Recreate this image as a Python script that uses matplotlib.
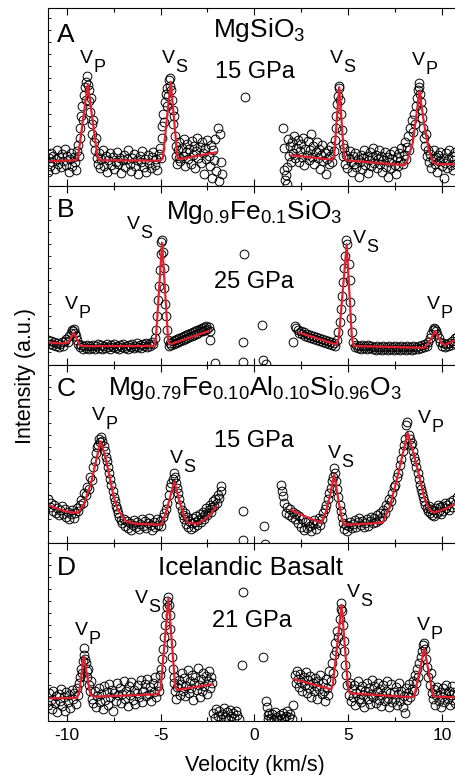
import matplotlib.pyplot as plt
from matplotlib.ticker import MultipleLocator

plt.rcParams['font.family'] = ['Liberation Sans', 'DejaVu Sans']
plt.rcParams['mathtext.fontset'] = 'custom'
plt.rcParams['mathtext.rm'] = 'Liberation Sans'
plt.rcParams['mathtext.default'] = 'regular'
plt.rcParams['axes.unicode_minus'] = False

nan = float('nan')

# ---- panel A : MgSiO3, 15 GPa ----
a_x = [
    -11.0, -10.95, -10.9, -10.85, -10.8, -10.72, -10.65, -10.6, -10.52, -10.45,
    -10.4, -10.33, -10.25, -10.2, -10.12, -10.05, -9.98, -9.9, -9.83, -9.75,
    -9.7, -9.62, -9.55, -9.5, -9.45, -9.4, -9.35, -9.3, -9.27, -9.22,
    -9.18, -9.13, -9.1, -9.05, -9.0, -8.96, -8.92, -8.88, -8.84, -8.8,
    -8.76, -8.72, -8.68, -8.64, -8.6, -8.55, -8.5, -8.45, -8.4, -8.35,
    -8.3, -8.22, -8.15, -8.08, -8.0, -7.92, -7.85, -7.78, -7.7, -7.62,
    -7.55, -7.48, -7.4, -7.32, -7.25, -7.18, -7.1, -7.02, -6.95, -6.88,
    -6.8, -6.72, -6.65, -6.58, -6.5, -6.42, -6.35, -6.28, -6.2, -6.12,
    -6.05, -5.98, -5.9, -5.82, -5.75, -5.68, -5.6, -5.52, -5.45, -5.38,
    -5.3, -5.23, -5.17, -5.1, -5.05, -5.0, -4.95, -4.9, -4.85, -4.8,
    -4.76, -4.72, -4.68, -4.64, -4.6, -4.56, -4.52, -4.48, -4.44, -4.4,
    -4.36, -4.32, -4.28, -4.24, -4.2, -4.16, -4.12, -4.08, -4.04, -4.0,
    -3.94, -3.88, -3.82, -3.76, -3.7, -3.64, -3.58, -3.52, -3.46, -3.4,
    -3.34, -3.28, -3.22, -3.16, -3.1, -3.04, -2.98, -2.92, -2.86, -2.8,
    -2.74, -2.68, -2.62, -2.56, -2.5, -2.44, -2.38, -2.32, -2.26, -2.2,
    -2.14, -2.08, -2.02, -1.96, -1.9, -1.84, -1.78, -1.72, -0.5, 1.5,
    1.56, 1.6, 1.64, 1.68, 1.72, 1.76, 1.8, 1.85, 1.9, 1.95,
    2.0, 2.06, 2.12, 2.18, 2.24, 2.3, 2.36, 2.42, 2.48, 2.54,
    2.6, 2.66, 2.72, 2.78, 2.84, 2.9, 2.96, 3.02, 3.08, 3.14,
    3.2, 3.26, 3.32, 3.38, 3.44, 3.5, 3.56, 3.62, 3.68, 3.74,
    3.8, 3.86, 3.92, 3.98, 4.04, 4.1, 4.16, 4.22, 4.28, 4.33,
    4.37, 4.41, 4.45, 4.49, 4.53, 4.57, 4.61, 4.65, 4.7, 4.75,
    4.8, 4.85, 4.9, 4.96, 5.02, 5.08, 5.14, 5.2, 5.26, 5.32,
    5.38, 5.44, 5.5, 5.56, 5.62, 5.68, 5.74, 5.8, 5.86, 5.92,
    5.98, 6.04, 6.1, 6.16, 6.22, 6.28, 6.34, 6.4, 6.46, 6.52,
    6.58, 6.64, 6.7, 6.76, 6.82, 6.88, 6.94, 7.0, 7.06, 7.12,
    7.18, 7.24, 7.3, 7.36, 7.42, 7.48, 7.54, 7.6, 7.66, 7.72,
    7.78, 7.84, 7.9, 7.96, 8.02, 8.08, 8.14, 8.2, 8.26, 8.32,
    8.38, 8.44, 8.5, 8.56, 8.62, 8.68, 8.72, 8.76, 8.8, 8.84,
    8.88, 8.92, 8.96, 9.0, 9.05, 9.1, 9.15, 9.2, 9.26, 9.32,
    9.38, 9.44, 9.5, 9.56, 9.62, 9.68, 9.74, 9.8, 9.86, 9.92,
    9.98, 10.04, 10.1, 10.16, 10.22, 10.28, 10.34, 10.4, 10.46, 10.52,
    10.58, 10.64, 10.7, 10.76,
]
a_y = [
    14, 28, 20, 33, 24, 30, 17, 27, 36, 22,
    29, 19, 32, 25, 37, 21, 30, 14, 27, 33,
    20, 29, 24, 16, 35, 41, 30, 48, 58, 70,
    80, 66, 91, 99, 86, 104, 110, 101, 96, 85,
    74, 88, 62, 52, 66, 44, 36, 48, 28, 22,
    33, 18, 27, 36, 20, 30, 14, 26, 33, 21,
    29, 17, 24, 34, 22, 28, 13, 26, 31, 19,
    27, 36, 22, 15, 28, 32, 20, 26, 12, 30,
    24, 35, 19, 27, 14, 31, 23, 18, 29, 34,
    21, 27, 16, 32, 38, 28, 48, 60, 72, 64,
    84, 92, 80, 98, 90, 106, 100, 108, 96, 86,
    76, 62, 70, 50, 40, 30, 22, 36, 28, 44,
    25, 38, 30, 47, 20, 34, 42, 27, 37, 22,
    45, 31, 40, 18, 35, 48, 28, 39, 23, 44,
    33, 12, 38, 27, 46, 30, 20, 41, 8, 36,
    26, 47, 15, 58, 5, 52, 24, 12, 89, 58,
    38, 16, 6, 11, 2, 19, 47, 30, 40, 24,
    44, 33, 50, 28, 38, 46, 24, 35, 42, 29,
    48, 21, 37, 31, 45, 26, 36, 52, 29, 40,
    22, 34, 44, 28, 37, 17, 31, 41, 25, 33,
    12, 27, 36, 22, 30, 40, 24, 35, 46, 58,
    70, 82, 90, 100, 98, 86, 72, 56, 42, 30,
    38, 22, 31, 18, 28, 35, 24, 14, 30, 22,
    33, 19, 27, 9, 24, 31, 17, 28, 36, 21,
    30, 13, 26, 34, 20, 29, 38, 23, 31, 18,
    27, 36, 22, 30, 14, 26, 34, 19, 29, 9,
    24, 32, 18, 27, 35, 21, 12, 29, 20, 33,
    25, 38, 22, 31, 44, 27, 39, 50, 36, 58,
    66, 54, 72, 62, 80, 88, 96, 103, 99, 92,
    84, 76, 68, 58, 48, 40, 52, 30, 36, 24,
    32, 18, 27, 36, 22, 29, 14, 31, 25, 34,
    20, 28, 8, 23, 33, 18, 27, 36, 21, 30,
    16, 26, 34, 22,
]
a_fit_x = [-11.0, -9.5, -9.4, -8.88, -8.36, -8.26, -5.0, -4.88, -4.46, -4.1, -4.0, -2.02,
           nan, 1.98, 4.15, 4.25, 4.52, 4.78, 4.88, 8.0, 8.12, 8.44, 8.8, 9.05, 9.3, 9.5, 9.7, 10.8]
a_fit_y = [25, 26, 29, 102, 29, 26, 25.5, 28, 104, 29, 27, 34,
           nan, 31, 26.5, 30, 99, 30, 26, 21, 24, 43, 95, 62, 36, 25, 22, 22]

# ---- panel B : Mg0.9Fe0.1SiO3, 25 GPa ----
b_x = [
    -11.0, -10.92, -10.84, -10.76, -10.68, -10.6, -10.52, -10.44, -10.36, -10.28,
    -10.2, -10.12, -10.04, -9.96, -9.88, -9.8, -9.74, -9.68, -9.62, -9.56,
    -9.5, -9.44, -9.38, -9.3, -9.22, -9.14, -9.06, -8.98, -8.9, -8.82,
    -8.74, -8.66, -8.58, -8.5, -8.42, -8.34, -8.26, -8.18, -8.1, -8.02,
    -7.94, -7.86, -7.78, -7.7, -7.62, -7.54, -7.46, -7.38, -7.3, -7.22,
    -7.14, -7.06, -6.98, -6.9, -6.82, -6.74, -6.66, -6.58, -6.5, -6.42,
    -6.34, -6.26, -6.18, -6.1, -6.02, -5.94, -5.86, -5.78, -5.7, -5.62,
    -5.54, -5.46, -5.38, -5.3, -5.24, -5.18, -5.12, -5.08, -5.04, -5.0,
    -4.96, -4.92, -4.88, -4.84, -4.8, -4.76, -4.72, -4.66, -4.6, -4.54,
    -4.48, -4.42, -4.36, -4.3, -4.24, -4.18, -4.12, -4.06, -4.0, -3.94,
    -3.88, -3.82, -3.76, -3.7, -3.64, -3.58, -3.52, -3.46, -3.4, -3.34,
    -3.28, -3.22, -3.16, -3.1, -3.04, -2.98, -2.92, -2.86, -2.8, -2.74,
    -2.68, -2.62, -2.56, -2.5, -2.44, -2.38, -2.34, -2.12, -0.62, -0.54,
    -0.62, 0.42, 0.48, 0.62,
    2.07, 2.16, 2.24, 2.32, 2.4, 2.48, 2.56, 2.64, 2.72, 2.8,
    2.88, 2.96, 3.04, 3.12, 3.2, 3.28, 3.36, 3.44, 3.52, 3.6,
    3.68, 3.76, 3.84, 3.92, 4.0, 4.08, 4.16, 4.24, 4.32, 4.4,
    4.48, 4.54, 4.6, 4.66, 4.72, 4.78, 4.84, 4.9, 4.96, 5.02,
    5.08, 5.12, 5.16, 5.22, 5.28, 5.34, 5.42, 5.5, 5.58, 5.66,
    5.74, 5.82, 5.9, 5.98, 6.06, 6.14, 6.22, 6.3, 6.38, 6.46,
    6.54, 6.62, 6.7, 6.78, 6.86, 6.94, 7.02, 7.1, 7.18, 7.26,
    7.34, 7.42, 7.5, 7.58, 7.66, 7.74, 7.82, 7.9, 7.98, 8.06,
    8.14, 8.22, 8.3, 8.38, 8.46, 8.54, 8.62, 8.7, 8.78, 8.86,
    8.94, 9.02, 9.1, 9.18, 9.26, 9.34, 9.42, 9.5, 9.56, 9.62,
    9.68, 9.74, 9.82, 9.9, 9.98, 10.06, 10.14, 10.22, 10.3, 10.38,
    10.46, 10.54, 10.62, 10.7, 10.78,
]
b_y = [
    24, 20, 23, 19, 22, 18, 21, 17, 20, 22,
    18, 23, 25, 22, 28, 31, 34, 33, 35, 31,
    28, 24, 20, 17, 19, 15, 18, 16, 19, 15,
    18, 16, 19, 15, 18, 20, 16, 19, 15, 18,
    16, 20, 17, 15, 19, 17, 20, 16, 18, 15,
    19, 17, 20, 16, 18, 15, 19, 17, 20, 16,
    18, 21, 17, 19, 16, 20, 18, 21, 17, 20,
    18, 22, 20, 26, 34, 48, 64, 78, 94, 110,
    122, 124, 112, 96, 76, 60, 48, 34, 24, 18,
    21, 19, 23, 20, 24, 21, 25, 22, 26, 23,
    27, 24, 28, 25, 29, 26, 30, 27, 31, 28,
    32, 29, 33, 30, 34, 31, 35, 33, 36, 33,
    37, 34, 38, 35, 37, 33, 24, 1, 22, 110,
    2, 39, 4, 0.5,
    22, 38, 36, 34, 31, 33, 30, 32, 28, 30,
    27, 29, 26, 28, 25, 27, 24, 26, 23, 25,
    22, 24, 21, 23, 20, 22, 19, 21, 18, 24,
    32, 42, 55, 68, 82, 96, 108, 124, 120, 100,
    84, 62, 46, 32, 22, 17, 19, 16, 18, 15,
    19, 16, 18, 15, 19, 16, 18, 15, 17, 14,
    18, 15, 17, 14, 18, 15, 17, 14, 18, 15,
    17, 14, 18, 15, 17, 14, 18, 15, 17, 14,
    18, 15, 17, 14, 18, 15, 17, 15, 18, 16,
    19, 17, 20, 18, 22, 26, 30, 34, 36, 35,
    33, 30, 26, 22, 18, 21, 17, 20, 18, 21,
    19, 23, 21, 26, 27,
]
b_fit_x = [-11.0, -10.3, -9.9, -9.63, -9.3, -9.0, -5.32, -5.25, -4.92, -4.6, -4.5, -2.45,
           nan, 2.39, 4.35, 4.5, 4.92, 5.2, 5.3, 9.06, 9.3, 9.63, 9.95, 10.15, 10.8]
b_fit_y = [22, 21, 22, 31.7, 19, 18.3, 18.5, 25, 121.7, 25, 20, 33.3,
           nan, 31.7, 20, 26, 120, 26, 18.5, 16.7, 22, 33.3, 22, 19.5, 25]

# ---- panel C : Mg0.79Fe0.10Al0.10Si0.96O3, 15 GPa ----
c_x = [
    -11.0, -10.92, -10.84, -10.76, -10.68, -10.6, -10.52, -10.44, -10.36, -10.28,
    -10.2, -10.12, -10.04, -9.96, -9.88, -9.8, -9.72, -9.64, -9.56, -9.48,
    -9.4, -9.32, -9.24, -9.16, -9.08, -9.0, -8.92, -8.84, -8.76, -8.68,
    -8.6, -8.52, -8.46, -8.4, -8.34, -8.28, -8.22, -8.16, -8.1, -8.04,
    -7.98, -7.92, -7.86, -7.8, -7.74, -7.68, -7.62, -7.56, -7.5, -7.44,
    -7.38, -7.32, -7.26, -7.2, -7.12, -7.04, -6.96, -6.88, -6.8, -6.72,
    -6.64, -6.56, -6.48, -6.4, -6.32, -6.24, -6.16, -6.08, -6.0, -5.92,
    -5.84, -5.76, -5.68, -5.6, -5.52, -5.44, -5.36, -5.28, -5.2, -5.12,
    -5.04, -4.96, -4.88, -4.8, -4.72, -4.64, -4.56, -4.48, -4.42, -4.36,
    -4.3, -4.24, -4.18, -4.12, -4.06, -4.0, -3.94, -3.88, -3.82, -3.76,
    -3.7, -3.64, -3.58, -3.52, -3.46, -3.4, -3.34, -3.28, -3.22, -3.16,
    -3.1, -3.04, -2.98, -2.92, -2.86, -2.8, -2.74, -2.68, -2.62, -2.56,
    -2.5, -2.44, -2.38, -2.32, -2.26, -2.2, -2.14, -2.08, -2.0, -1.94,
    -1.86, -1.8, -1.76, -0.63, 0.51, -0.63, 0.55,
    1.44, 1.48, 1.52, 1.58, 1.66, 1.74, 1.82, 1.9, 1.98, 2.06,
    2.14, 2.22, 2.3, 2.38, 2.46, 2.54, 2.62, 2.7, 2.78, 2.86,
    2.94, 3.02, 3.1, 3.18, 3.26, 3.34, 3.42, 3.5, 3.58, 3.66,
    3.74, 3.82, 3.9, 3.98, 4.06, 4.12, 4.18, 4.24, 4.3, 4.36,
    4.42, 4.48, 4.54, 4.6, 4.66, 4.72, 4.78, 4.86, 4.94, 5.02,
    5.1, 5.18, 5.26, 5.34, 5.42, 5.5, 5.58, 5.66, 5.74, 5.82,
    5.9, 5.98, 6.06, 6.14, 6.22, 6.3, 6.38, 6.46, 6.54, 6.62,
    6.7, 6.78, 6.86, 6.94, 7.02, 7.1, 7.18, 7.26, 7.34, 7.42,
    7.5, 7.58, 7.66, 7.74, 7.82, 7.9, 7.98, 8.04, 8.1, 8.16,
    8.22, 8.28, 8.34, 8.4, 8.46, 8.52, 8.58, 8.64, 8.7, 8.76,
    8.82, 8.88, 8.94, 9.0, 9.06, 9.12, 9.18, 9.24, 9.3, 9.36,
    9.42, 9.48, 9.54, 9.6, 9.66, 9.72, 9.78, 9.84, 9.9, 9.96,
    10.02, 10.08, 10.14, 10.2, 10.28, 10.36, 10.44, 10.52, 10.6, 10.7,
    10.78,
]
c_y = [
    44, 36, 40, 32, 38, 30, 35, 28, 33, 37,
    29, 34, 26, 31, 24, 29, 33, 25, 30, 35,
    32, 38, 43, 40, 50, 48, 56, 54, 66, 63,
    76, 82, 90, 96, 98, 104, 101, 106, 102, 97,
    92, 86, 82, 76, 70, 64, 58, 52, 46, 42,
    37, 34, 30, 26, 23, 20, 24, 17, 22, 15,
    20, 13, 18, 23, 16, 21, 14, 19, 24, 17,
    22, 15, 20, 25, 18, 13, 21, 16, 24, 18,
    22, 17, 26, 30, 34, 40, 48, 56, 60, 64,
    70, 66, 60, 55, 50, 44, 38, 33, 28, 24,
    30, 19, 26, 16, 22, 14, 20, 25, 16, 21,
    27, 18, 23, 29, 21, 26, 31, 24, 29, 35,
    28, 33, 38, 31, 36, 42, 37, 44, 40, 48,
    45, 52, 57, 32, 17, 3, -1,
    58, 52, 47, 40, 30, 36, 28, 34, 26, 31,
    24, 29, 20, 27, 16, 24, 13, 21, 15, 22,
    17, 12, 19, 23, 14, 20, 25, 18, 24, 30,
    34, 38, 44, 50, 55, 62, 66, 75, 70, 62,
    54, 46, 38, 32, 26, 20, 14, 18, 12, 17,
    21, 15, 19, 23, 16, 21, 25, 18, 22, 16,
    20, 24, 17, 22, 26, 20, 25, 21, 28, 23,
    30, 26, 33, 30, 38, 36, 44, 42, 50, 56,
    58, 66, 70, 78, 84, 92, 98, 104, 118, 121,
    108, 104, 98, 100, 92, 86, 82, 76, 70, 64,
    58, 54, 50, 46, 42, 38, 35, 32, 37, 30,
    34, 28, 33, 27, 35, 30, 38, 32, 36, 29,
    37, 32, 40, 35, 38, 33, 41, 36, 43, 39,
    46,
]
c_fit_x = [-11.0, -10.5, -10.0, -9.41, -9.1, -8.7, -8.4, -8.2, -7.95, -7.72,
           -7.5, -7.28, -6.84, -6.3, -4.97, -4.75, -4.5, -4.26, -4.0, -3.75,
           -3.55, -3.01, -2.6, -2.3, -2.04,
           nan, 1.95, 2.5, 3.0, 3.55, 3.8, 4.0, 4.26, 4.5, 4.65, 4.79,
           5.5, 6.4, 6.84, 7.2, 7.55, 7.9, 8.17, 8.5, 8.79, 9.05,
           9.32, 9.6, 10.2, 10.8]
c_fit_y = [38, 34, 31, 29.7, 38, 60, 85, 101.3, 86, 66,
           46, 33, 21.3, 19, 18, 28, 45, 61.3, 42, 27,
           20, 19, 24, 29, 36.3,
           nan, 33, 28, 24, 19.7, 30, 45, 68, 40, 25, 18,
           18.5, 19.5, 20.3, 35, 59.7, 88, 109.7, 88, 66.3, 45,
           33, 30, 34, 40]

# ---- panel D : Icelandic Basalt, 21 GPa ----
d_x = [
    -11.0, -10.93, -10.86, -10.79, -10.72, -10.65, -10.58, -10.51, -10.44, -10.37,
    -10.3, -10.23, -10.16, -10.09, -10.02, -9.95, -9.88, -9.81, -9.74, -9.67,
    -9.6, -9.53, -9.46, -9.4, -9.35, -9.3, -9.25, -9.2, -9.15, -9.1,
    -9.06, -9.02, -8.98, -8.94, -8.9, -8.85, -8.8, -8.75, -8.7, -8.65,
    -8.58, -8.51, -8.44, -8.37, -8.3, -8.23, -8.16, -8.09, -8.02, -7.95,
    -7.88, -7.81, -7.74, -7.67, -7.6, -7.53, -7.46, -7.39, -7.32, -7.25,
    -7.18, -7.11, -7.04, -6.97, -6.9, -6.83, -6.76, -6.69, -6.62, -6.55,
    -6.48, -6.41, -6.34, -6.27, -6.2, -6.13, -6.06, -5.99, -5.92, -5.85,
    -5.78, -5.71, -5.64, -5.57, -5.5, -5.43, -5.36, -5.29, -5.22, -5.15,
    -5.08, -5.02, -4.97, -4.92, -4.87, -4.82, -4.77, -4.72, -4.68, -4.64,
    -4.6, -4.56, -4.52, -4.48, -4.44, -4.4, -4.36, -4.31, -4.26, -4.21,
    -4.16, -4.1, -4.04, -3.98, -3.92, -3.86, -3.8, -3.74, -3.68, -3.62,
    -3.56, -3.5, -3.44, -3.38, -3.32, -3.26, -3.2, -3.14, -3.08, -3.02,
    -2.96, -2.9, -2.84, -2.78, -2.72, -2.66, -2.6, -2.54, -2.48, -2.42,
    -2.36, -2.3, -2.24, -2.18, -2.12, -2.04, -1.96, -1.88, -1.8, -1.72,
    -1.64, -1.56, -1.48, -1.4, -1.32, -1.24, -1.16, -1.08, -1.0, -0.92,
    -0.84, -0.6, -0.68, 0.47, 0.6, 0.65, 0.7, 0.75, 0.8, 0.88,
    0.96, 1.04, 1.12, 1.2, 1.28, 1.36, 1.44, 1.52, 1.6, 1.68,
    1.76, 1.84, 1.92, 2.0, 2.07,
    2.14, 2.2, 2.26, 2.32, 2.38, 2.44, 2.5, 2.56, 2.62, 2.68,
    2.74, 2.8, 2.86, 2.92, 2.98, 3.04, 3.1, 3.16, 3.22, 3.28,
    3.34, 3.4, 3.46, 3.52, 3.58, 3.64, 3.7, 3.76, 3.82, 3.88,
    3.94, 4.0, 4.06, 4.12, 4.18, 4.24, 4.3, 4.36, 4.42, 4.48,
    4.54, 4.6, 4.64, 4.68, 4.72, 4.76, 4.8, 4.84, 4.9, 4.96,
    5.02, 5.08, 5.14, 5.2, 5.26, 5.32, 5.38, 5.44, 5.5, 5.56,
    5.62, 5.68, 5.74, 5.8, 5.86, 5.92, 5.98, 6.04, 6.1, 6.16,
    6.22, 6.28, 6.34, 6.4, 6.46, 6.52, 6.58, 6.64, 6.7, 6.76,
    6.82, 6.88, 6.94, 7.0, 7.06, 7.12, 7.18, 7.24, 7.3, 7.36,
    7.42, 7.48, 7.54, 7.6, 7.66, 7.72, 7.78, 7.84, 7.9, 7.96,
    8.02, 8.08, 8.14, 8.2, 8.26, 8.32, 8.38, 8.44, 8.5, 8.56,
    8.62, 8.68, 8.74, 8.8, 8.86, 8.92, 8.98, 9.04, 9.1, 9.16,
    9.22, 9.28, 9.34, 9.4, 9.46, 9.52, 9.58, 9.64, 9.7, 9.76,
    9.82, 9.88, 9.94, 10.0, 10.06, 10.12, 10.18, 10.24, 10.3, 10.36,
    10.42, 10.48, 10.54, 10.6, 10.66, 10.72, 10.78,
]
d_y = [
    16, 28, 21, 12, 30, 18, 25, 9, 27, 20,
    32, 15, 24, 10, 29, 19, 26, 13, 31, 22,
    28, 17, 33, 26, 38, 44, 52, 48, 60, 66,
    73, 62, 58, 50, 44, 52, 36, 30, 40, 22,
    18, 30, 14, 25, 33, 19, 27, 12, 35, 21,
    29, 16, 37, 24, 31, 10, 28, 20, 38, 26,
    33, 18, 27, 40, 22, 30, 15, 35, 26, 39,
    21, 31, 17, 28, 36, 24, 41, 19, 30, 37,
    25, 42, 27, 34, 20, 38, 29, 44, 24, 35,
    30, 46, 52, 62, 72, 84, 96, 106, 114, 120,
    124, 116, 106, 92, 78, 64, 52, 44, 38, 30,
    22, 34, 41, 26, 37, 48, 30, 43, 25, 35,
    51, 28, 40, 33, 46, 21, 38, 44, 31, 53,
    36, 24, 42, 30, 48, 35, 45, 27, 40, 50,
    33, 44, 38, 8, 3, 12, 5, 10, 2, 7,
    13, 4, 9, 2, 11, 5, 8, 3, 10, 6,
    2, 129, 56, 64, 20, 14, 6, 2, 8, 3,
    7, 2, 9, 4, 1, 6, 2, 8, 3, 5,
    10, 4, 7, 2, 16,
    46, 38, 50, 42, 34, 47, 39, 30, 44, 36,
    49, 28, 41, 33, 45, 24, 38, 30, 43, 35,
    22, 40, 32, 46, 27, 38, 30, 20, 42, 33,
    26, 50, 40, 58, 48, 66, 78, 70, 90, 84,
    102, 112, 118, 110, 96, 80, 70, 56, 46, 36,
    26, 38, 20, 32, 24, 36, 16, 28, 40, 22,
    31, 19, 35, 26, 14, 30, 38, 22, 33, 17,
    27, 41, 24, 35, 18, 29, 38, 21, 32, 15,
    26, 36, 20, 30, 40, 23, 14, 28, 37, 19,
    29, 22, 34, 16, 27, 38, 20, 30, 14, 25,
    8, 33, 21, 28, 37, 24, 32, 40, 30, 46,
    38, 52, 44, 58, 64, 70, 76, 78, 72, 62,
    54, 44, 36, 48, 28, 22, 32, 16, 26, 34,
    20, 29, 14, 24, 33, 19, 28, 36, 22, 30,
    16, 26, 35, 21, 29, 18, 27,
]
d_fit_x = [-11.0, -9.5, -9.35, -9.09, -8.75, -8.55, -5.15, -5.0, -4.58, -4.22, -4.12, -2.21,
           nan, 2.12, 4.08, 4.18, 4.65, 5.0, 5.1, 8.44, 8.55, 9.06, 9.5, 9.62, 10.8]
d_fit_y = [22.7, 23, 27, 64.3, 27, 24.3, 26.7, 32, 123, 34, 31, 36.7,
           nan, 41.7, 31.7, 36, 116, 32, 27.7, 23.7, 27, 72.7, 27, 24.3, 23.7]

letters = ['A', 'B', 'C', 'D']
titles = [r'MgSiO$_3$', r'Mg$_{0.9}$Fe$_{0.1}$SiO$_3$',
          r'Mg$_{0.79}$Fe$_{0.10}$Al$_{0.10}$Si$_{0.96}$O$_3$', 'Icelandic Basalt']
pressures = ['15 GPa', '25 GPa', '15 GPa', '21 GPa']

panels = [(a_x, a_y, a_fit_x, a_fit_y), (b_x, b_y, b_fit_x, b_fit_y),
          (c_x, c_y, c_fit_x, c_fit_y), (d_x, d_y, d_fit_x, d_fit_y)]

# layout (text positions in data units)
title_pos = [(0.24, 149), (0.0, 145), (0.05, 148), (-0.19, 146)]
letter_h = [144, 147, 146.3, 146]
press_pos = [(0.03, 107.7), (0.0, 76.7), (0.0, 95.7), (-0.13, 93.7)]
vlabels = [
    [(-9.31, 123, 'P'), (-4.93, 123, 'S'), (4.03, 123, 'S'), (8.4, 121, 'P')],
    [(-6.8, 135, 'S'), (5.27, 121.7, 'S'), (-10.1, 55, 'P'), (9.2, 55, 'P')],
    [(-8.67, 123, 'P'), (-4.5, 79.7, 'S'), (3.93, 84.7, 'S'), (8.73, 119.7, 'P')],
    [(-6.37, 118.3, 'S'), (-9.57, 86, 'P'), (4.93, 124.3, 'S'), (8.67, 91, 'P')],
]

W, H = 456, 775
fig = plt.figure(figsize=(W / 100, H / 100), dpi=100)

x0 = 48 / W
x1 = 460.75 / W
top_px = 8
panel_px = 178.25
red = '#e3202e'

for i, (x, y, fx, fy) in enumerate(panels):
    ytop = 1 - (top_px + panel_px * i) / H
    ax = fig.add_axes([x0, ytop - panel_px / H, x1 - x0, panel_px / H])
    ax.plot(x, y, 'o', mfc='none', mec='black', ms=6.3, mew=0.7)
    ax.plot(fx, fy, '-', color=red, lw=1.6)
    ax.set_xlim(-11, 11)
    ax.set_ylim(0, 178)

    ax.xaxis.set_major_locator(MultipleLocator(5))
    ax.xaxis.set_minor_locator(MultipleLocator(2.5))
    ax.yaxis.set_major_locator(MultipleLocator(12))
    ax.tick_params(axis='x', which='major', direction='in', top=True, length=5, width=0.8,
                   labelsize=12.5, pad=5, labelbottom=(i == 3))
    ax.tick_params(axis='x', which='minor', direction='in', top=True, length=3, width=0.8)
    ax.tick_params(axis='y', which='major', direction='in', length=2.5, width=0.6,
                   labelleft=False)
    for s in ax.spines.values():
        s.set_linewidth(0.8)

    ax.text(-10.53, letter_h[i], letters[i], fontsize=19, ha='left', va='baseline')
    tx, th = title_pos[i]
    ax.text(tx, th, titles[i], fontsize=19, ha='center', va='baseline')
    px, ph = press_pos[i]
    ax.text(px, ph, pressures[i], fontsize=17, ha='center', va='baseline')
    for vx, vh, sub in vlabels[i]:
        ax.text(vx, vh, 'V', fontsize=14, ha='left', va='baseline')
        ax.annotate(sub, (vx, vh), xytext=(9.6, -6.5), textcoords='offset points',
                    fontsize=13, ha='left', va='baseline')

fig.text(254.5 / W, 1 - 771 / H, 'Velocity (km/s)', fontsize=15.5, ha='center', va='baseline')
fig.text(25.5 / W, 1 - 376.5 / H, 'Intensity (a.u.)', fontsize=15.5, rotation=90,
         ha='center', va='center')

fig.savefig('out.png', dpi=100)
